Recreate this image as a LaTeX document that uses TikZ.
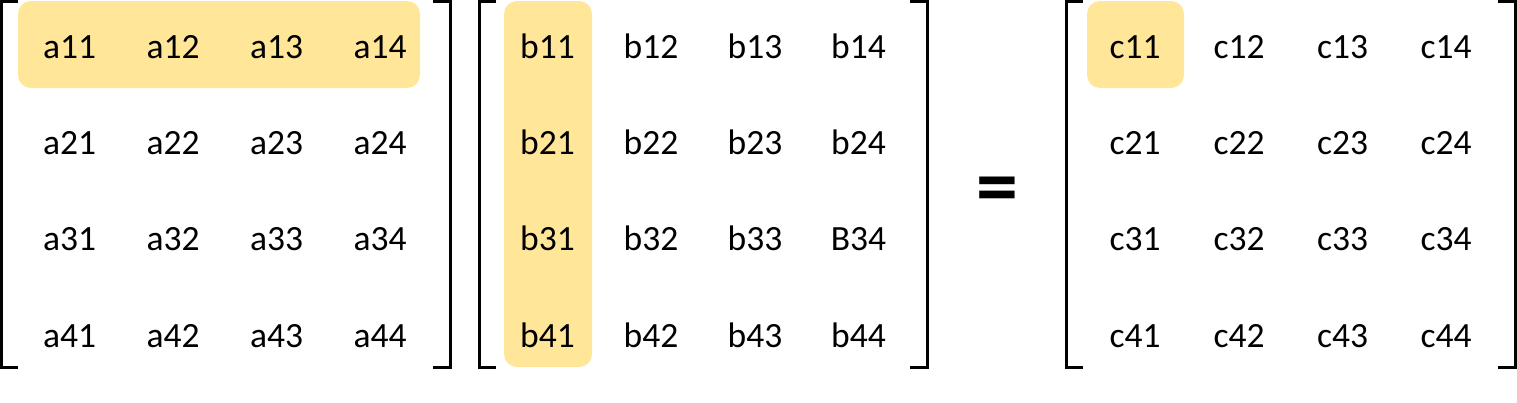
\documentclass[tikz,border=0pt]{standalone}
\usepackage{fontspec}
\setmainfont{Carlito}
\definecolor{hl}{HTML}{FFE699}
\begin{document}
\begin{tikzpicture}[x=1pt,y=-1pt,
  cell/.style={anchor=base,inner sep=0pt,font=\fontsize{35.5}{40}\selectfont},
  hlbox/.style={fill=hl,rounded corners=13pt},
  brk/.style={line width=3pt,line cap=butt,line join=miter}]
\useasboundingbox (0,0) rectangle (1517,402);
% highlights
\fill[hlbox] (18,1) rectangle (420,88);
\fill[hlbox] (504,1) rectangle (592,367);
\fill[hlbox] (1087,1) rectangle (1184,88);
% brackets
\draw[brk] (18,1.5) -- (1.5,1.5) -- (1.5,367) -- (18,367);
\draw[brk] (433,1.5) -- (450,1.5) -- (450,367) -- (433,367);
\draw[brk] (496,1.5) -- (479,1.5) -- (479,367) -- (496,367);
\draw[brk] (910,1.5) -- (927,1.5) -- (927,367) -- (910,367);
\draw[brk] (1083,1.5) -- (1066,1.5) -- (1066,367) -- (1083,367);
\draw[brk] (1498,1.5) -- (1515,1.5) -- (1515,367) -- (1498,367);
% cells
\foreach \r/\y in {1/58,2/154.3,3/250.6,4/347}{
  \foreach \c/\xa/\xb/\xc in {1/69.5/547.5/1135,2/173/651/1239,3/276.5/755/1342.5,4/380/858.5/1446}{
    \node[cell] (a\r\c) at (\xa,\y) {a\r\c};
    \ifnum\r\c=34
      \node[cell] (b\r\c) at (\xb,\y) {B\r\c};
    \else
      \node[cell] (b\r\c) at (\xb,\y) {b\r\c};
    \fi
    \node[cell] (c\r\c) at (\xc,\y) {c\r\c};
  }
}
\node[inner sep=0pt,font=\fontsize{84}{90}\selectfont\bfseries] (eq) at (997,196) {=};
\end{tikzpicture}
\end{document}
